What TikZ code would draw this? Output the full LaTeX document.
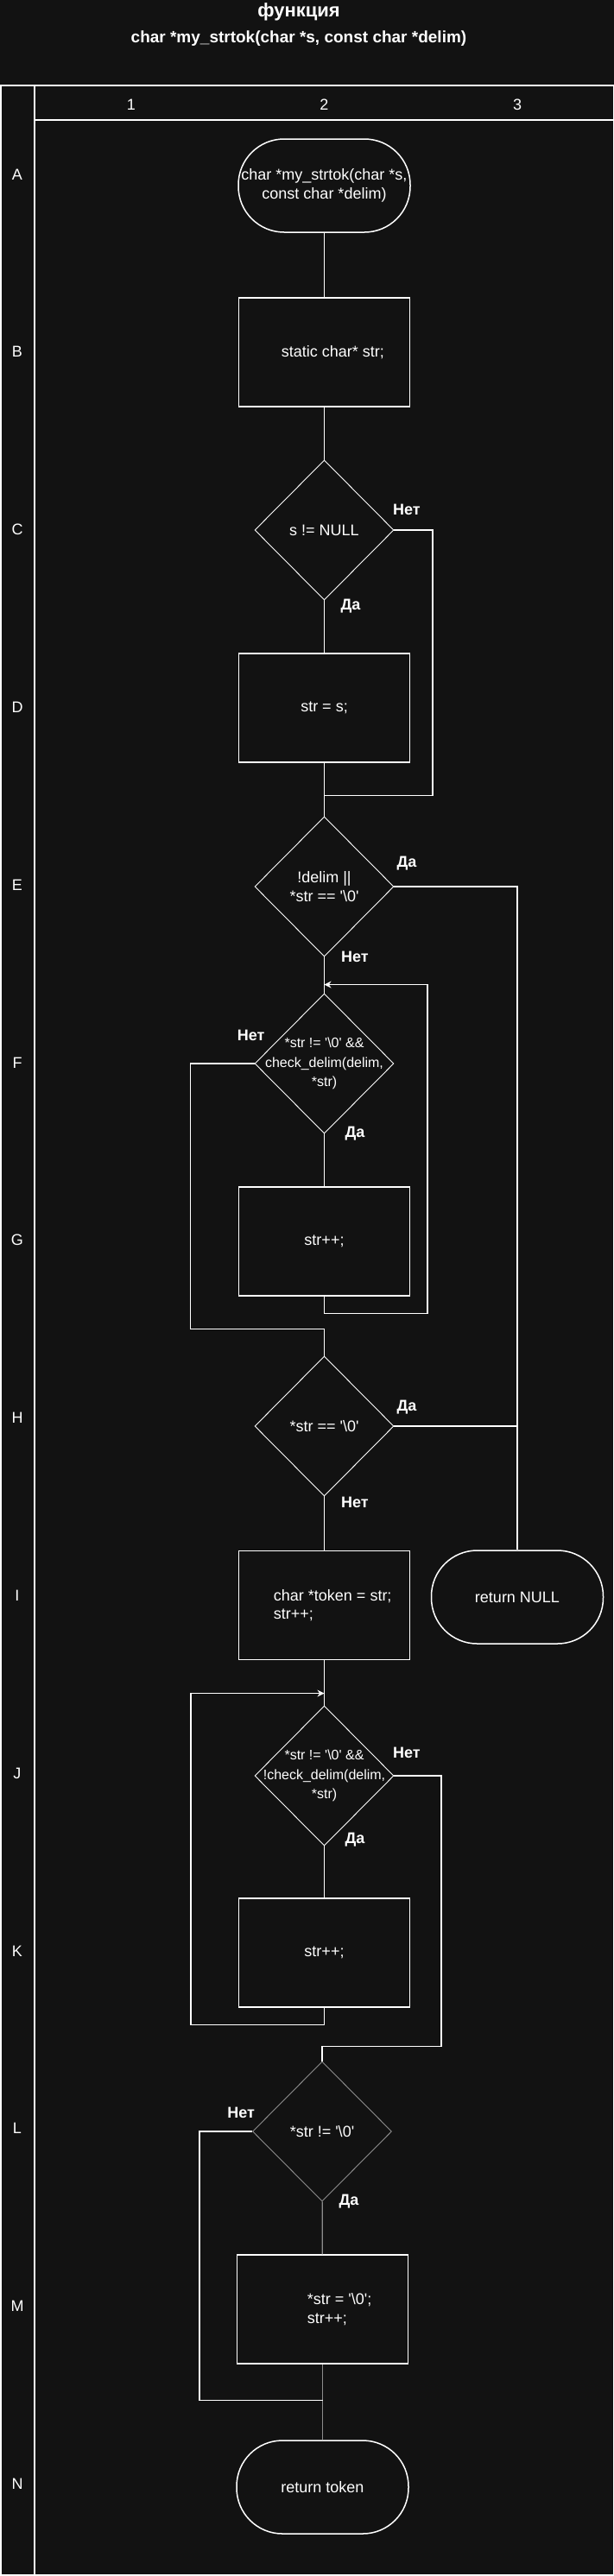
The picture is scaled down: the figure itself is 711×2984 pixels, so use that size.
\documentclass[tikz,border=0pt]{standalone}
\usepackage{fontspec}
\newfontfamily\lsans{Liberation Sans}
\usetikzlibrary{shapes.geometric,arrows.meta,positioning}
\definecolor{bgc}{HTML}{121212}
\definecolor{grayline}{HTML}{8C8C8C}
\newcommand{\zch}{'\textbackslash0'}

\begin{document}
\begin{tikzpicture}[x=1pt,y=-1pt,
        every node/.style={text=white, font=\lsans\fontsize{18}{21.6}\selectfont},
        proc/.style={rectangle, draw=white, line width=1.5pt, minimum width=198pt, minimum height=126pt, inner sep=0pt},
        term/.style={rectangle, rounded corners=53pt, draw=white, line width=1.5pt, minimum width=199pt, minimum height=108pt, align=center, inner sep=0pt},
        cond/.style={diamond, draw=white, line width=0.9pt, minimum width=161pt, minimum height=162pt, inner sep=0pt},
        txt/.style={align=center, inner sep=0pt},
        smalltxt/.style={txt, font=\lsans\fontsize{16}{22.5}\selectfont},
        yesno/.style={font=\lsans\bfseries\fontsize{18}{21.6}\selectfont, inner sep=0pt},
        conn/.style={draw=white, line width=1.3pt},
        arr/.style={conn, -{Stealth[length=8pt,width=8pt]}}
    ]
        % Background and page size
        \fill[bgc] (0,0) rectangle (711,2984);
        \useasboundingbox (0,0) rectangle (711,2984);

        % Title
        \node[font=\lsans\bfseries\fontsize{22}{26}\selectfont, anchor=base] (title) at (346,19.5) {функция};
        \node[font=\lsans\bfseries\fontsize{19}{23}\selectfont, anchor=base] (subtitle) at (346,49.5) {char *my\_strtok(char *s, const char *delim)};

        % Grid
        \draw[white, line width=1.5pt] (0.75,99) rectangle (710.25,2983);
        \draw[white, line width=1.5pt] (40,99) -- (40,2983);
        \draw[white, line width=1.5pt] (40,139) -- (710.25,139);
        \foreach \c/\x in {1/152,2/375.5,3/599}
            \node (col\c) at (\x,121) {\c};
        \foreach \r [count=\i from 0] in {A,B,C,D,E,F,G,H,I,J,K,L,M,N}
            \node (row\r) at (20,{201.9+205.8*\i}) {\r};

        % Blocks
        \node[term] (start) at (375.5,215) {char *my\_strtok(char *s,\\const char *delim)};
        \node[proc] (b1) at (375.5,408) {};
        \node[txt, anchor=west] (b1t) at ([xshift=50pt]b1.west) {static char* str;};
        \node[cond] (c1) at (375.5,614) {};
        \node[txt] (c1t) at (c1) {s != NULL};
        \node[proc] (d1) at (375.5,820) {str = s;};
        \node[cond] (e1) at (375.5,1027) {};
        \node[txt] (e1t) at (e1) {!delim ||\\{}*str == \zch};
        \node[cond] (f1) at (375.5,1232) {};
        \node[smalltxt] (f1t) at (f1) {*str != \zch{} \&\&\\check\_delim(delim,\\{}*str)};
        \node[proc] (g1) at (375.5,1438) {str++;};
        \node[cond] (h1) at (375.5,1652) {};
        \node[txt] (h1t) at (h1) {*str == \zch};
        \node[proc] (i1) at (375.5,1859.5) {};
        \node[txt, anchor=west, align=left] (i1t) at ([xshift=41pt]i1.west) {char *token = str;\\str++;};
        \node[term] (rn) at (599,1850) {return NULL};
        \node[cond] (j1) at (375.5,2057) {};
        \node[smalltxt] (j1t) at (j1) {*str != \zch{} \&\&\\!check\_delim(delim,\\{}*str)};
        \node[proc] (k1) at (375.5,2262) {str++;};
        \node[cond, draw=grayline] (l1) at (373,2469) {};
        \node[txt] (l1t) at (l1) {*str != \zch};
        \node[proc] (m1) at (373.5,2675) {};
        \node[txt, anchor=west, align=left] (m1t) at ([xshift=82pt]m1.west) {*str = \zch;\\str++;};
        \node[term] (n1) at (373.5,2881) {return token};

        % Yes / no labels
        \node[yesno] (c1no) at ([xshift=14.5pt,yshift=24pt]c1.east) {Нет};
        \node[yesno] (c1yes) at ([xshift=30.5pt,yshift=-7pt]c1.south) {Да};
        \node[yesno] (e1yes) at ([xshift=14.5pt,yshift=27pt]e1.east) {Да};
        \node[yesno] (e1no) at ([xshift=35.5pt]e1.south) {Нет};
        \node[yesno] (f1no) at ([xshift=-4pt,yshift=33pt]f1.west) {Нет};
        \node[yesno] (f1yes) at ([xshift=35.5pt]f1.south) {Да};
        \node[yesno] (h1yes) at ([xshift=14.5pt,yshift=22pt]h1.east) {Да};
        \node[yesno] (h1no) at ([xshift=35.5pt,yshift=-7pt]h1.south) {Нет};
        \node[yesno] (j1no) at ([xshift=14.5pt,yshift=27pt]j1.east) {Нет};
        \node[yesno] (j1yes) at ([xshift=35.5pt,yshift=7pt]j1.south) {Да};
        \node[yesno] (l1no) at ([xshift=-13pt,yshift=22pt]l1.west) {Нет};
        \node[yesno] (l1yes) at ([xshift=31pt]l1.south) {Да};

        % Joins
        \coordinate (cjoin) at ([yshift=-38pt]d1.south);
        \coordinate (fjoin) at ([yshift=31pt]h1.north);

        % Connectors
        \draw[conn] (start) -- (b1);
        \draw[conn] (b1) -- (c1);
        \draw[conn] (c1) -- (d1);
        \draw[conn] (c1.east) -- ++(44.5,0) |- (cjoin);
        \draw[conn] (d1) -- (e1);
        \draw[conn] (e1.east) -| (rn.north);
        \draw[conn] (e1) -- (f1);
        \draw[conn] (f1) -- (g1);
        \draw[arr] (g1.south) -- ++(0,20) -| ([xshift=119.5pt,yshift=10pt]f1.north) -- ([yshift=10pt]f1.north);
        \draw[conn] (f1.west) -- ++(-74,0) |- (fjoin);
        \draw[conn] (fjoin) -- (h1.north);
        \draw[conn] (h1.east) -- (h1.east -| rn.north);
        \draw[conn] (h1) -- (i1);
        \draw[conn] (i1) -- (j1);
        \draw[arr] (k1.south) -- ++(0,20) -| ([xshift=-154.5pt,yshift=14pt]j1.north) -- ([yshift=14pt]j1.north);
        \draw[conn] (j1) -- (k1);
        \draw[conn] (j1.east) -- ++(54.5,0) |- ([yshift=17pt]l1.north) -- (l1.north);
        \draw[conn, draw=grayline] (l1) -- (m1);
        \draw[conn, draw=grayline] (m1) -- (n1);
        \draw[conn] (l1.west) -- ++(-61,0) |- ([yshift=46pt]n1.north);
    \end{tikzpicture}
\end{document}
